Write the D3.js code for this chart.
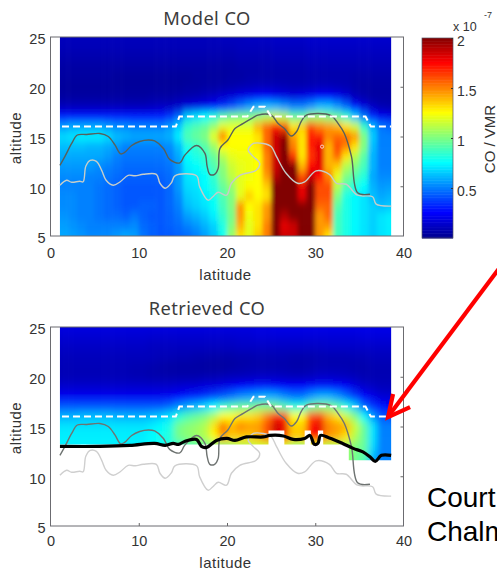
<!DOCTYPE html>
<html><head><meta charset="utf-8">
<script src="https://cdnjs.cloudflare.com/ajax/libs/d3/7.8.5/d3.min.js"></script>
<style>html,body{margin:0;padding:0;background:#fff;overflow:hidden}svg{display:block}</style>
</head><body><svg id="c" width="497" height="570"></svg>
<script>
// CO / VMR in units of 1e-7, one array per altitude, one value per 1-degree latitude bin (1..38)
const m25=[.10,.10,.10,.10,.10,.10,.10,.10,.10,.10,.10,.10,.10,.10,.10,.10,.10,.10,.11,.11,.11,.12,.12,.12,.13,.13,.13,.13,.14,.14,.14,.14,.14,.14,.14,.14,.14,.14];
const m24=[.09,.09,.09,.09,.09,.09,.09,.09,.09,.09,.09,.09,.09,.09,.09,.09,.09,.09,.09,.09,.10,.10,.10,.10,.11,.11,.11,.11,.12,.12,.12,.12,.12,.12,.12,.12,.12,.12];
const m23=[.07,.07,.07,.07,.07,.07,.07,.07,.07,.07,.07,.07,.07,.07,.07,.07,.07,.07,.07,.07,.08,.08,.08,.08,.09,.09,.09,.09,.10,.10,.10,.10,.10,.10,.10,.10,.10,.10];
const m22=[.05,.05,.05,.05,.05,.05,.05,.05,.05,.05,.05,.05,.05,.05,.05,.05,.05,.05,.05,.05,.06,.06,.06,.07,.07,.07,.07,.07,.08,.08,.08,.08,.08,.08,.08,.08,.08,.08];
const m21=[.04,.04,.04,.04,.04,.04,.03,.03,.03,.03,.03,.03,.03,.03,.03,.04,.04,.04,.04,.05,.05,.06,.06,.06,.06,.06,.06,.06,.07,.07,.07,.07,.07,.06,.06,.06,.06,.06];
const m20=[.03,.03,.03,.03,.03,.03,.03,.03,.03,.03,.03,.03,.03,.03,.04,.04,.05,.05,.06,.07,.08,.09,.10,.10,.10,.09,.08,.08,.09,.10,.10,.09,.08,.06,.05,.05,.05,.05];
const m19=[.04,.04,.04,.04,.04,.04,.04,.04,.04,.04,.05,.05,.05,.06,.07,.08,.10,.12,.15,.17,.20,.22,.24,.25,.22,.20,.18,.20,.22,.25,.25,.22,.17,.10,.07,.05,.05,.05];
const m18=[.10,.10,.10,.10,.10,.10,.10,.10,.10,.10,.11,.12,.12,.14,.18,.20,.22,.28,.33,.40,.48,.55,.60,.62,.60,.55,.50,.50,.55,.62,.62,.55,.45,.30,.18,.12,.08,.07];
const m17=[.30,.30,.30,.30,.30,.30,.30,.30,.30,.30,.30,.30,.35,.45,.65,.70,.75,.82,.92,.98,1.0,1.0,1.05,1.1,1.15,1.1,.95,.95,1.05,1.05,1.0,.95,.85,.65,.48,.32,.22,.20];
const m16=[.55,.58,.58,.58,.58,.55,.52,.52,.50,.50,.50,.50,.55,.65,.85,.90,.95,1.05,1.2,1.2,1.2,1.2,1.4,1.55,1.7,1.6,1.3,1.35,1.6,1.5,1.45,1.4,1.3,1.15,.85,.60,.48,.45];
const m15=[.68,.70,.72,.72,.72,.68,.62,.60,.58,.58,.58,.58,.60,.72,.90,.95,1.0,1.2,1.5,1.25,1.25,1.25,1.3,1.55,1.85,1.95,1.45,1.3,1.7,1.7,1.5,1.55,1.55,1.45,1.0,.65,.50,.50];
const m14=[.62,.62,.62,.60,.60,.58,.55,.50,.50,.50,.50,.50,.52,.62,.80,.85,.92,1.05,1.25,1.25,1.25,1.25,1.3,1.55,1.85,2.0,1.5,1.3,1.7,1.8,1.4,1.6,1.5,1.3,1.0,.62,.50,.50];
const m13=[.58,.58,.58,.58,.58,.55,.50,.48,.48,.48,.48,.48,.50,.58,.75,.80,.85,.95,1.1,1.2,1.22,1.22,1.25,1.5,1.85,2.0,1.65,1.3,1.65,1.8,1.4,1.55,1.3,1.1,.92,.60,.50,.50];
const m12=[.55,.55,.55,.55,.52,.50,.48,.46,.46,.46,.46,.46,.48,.55,.72,.75,.80,.90,1.02,1.15,1.2,1.22,1.25,1.5,1.85,2.0,2.0,1.4,1.75,1.8,1.4,1.35,1.1,1.0,.88,.60,.50,.50];
const m11=[.52,.52,.52,.50,.50,.48,.46,.44,.44,.44,.44,.44,.46,.55,.70,.72,.75,.85,1.0,1.12,1.2,1.22,1.25,1.45,1.9,2.0,2.0,1.6,1.85,1.75,1.5,1.2,1.0,.90,.82,.58,.52,.52];
const m10=[.50,.50,.50,.50,.48,.46,.44,.42,.42,.42,.42,.42,.45,.55,.68,.70,.75,.82,.95,1.05,1.2,1.25,1.25,1.35,2.0,2.0,2.0,1.8,2.0,1.6,1.6,1.1,.90,.82,.75,.60,.55,.56];
const m9 =[.52,.52,.50,.50,.48,.46,.44,.42,.42,.42,.42,.42,.45,.52,.65,.68,.72,.78,.90,1.0,1.2,1.35,1.25,1.3,2.0,2.0,2.0,1.8,2.0,1.6,1.6,1.0,.80,.74,.70,.62,.58,.60];
const m8 =[.52,.52,.50,.50,.48,.46,.44,.42,.42,.44,.44,.42,.45,.50,.62,.66,.70,.76,.88,1.0,1.45,1.25,1.3,1.45,2.0,2.0,2.0,2.0,2.0,1.55,1.55,.92,.80,.74,.70,.66,.62,.64];
const m7 =[.54,.52,.50,.50,.48,.46,.46,.44,.48,.44,.42,.42,.44,.48,.56,.60,.65,.72,.85,.98,1.45,1.22,1.3,1.45,2.0,1.9,2.0,2.0,2.0,1.45,1.55,.88,.80,.74,.70,.66,.70,.72];
const m6 =[.56,.54,.52,.50,.50,.50,.50,.50,.52,.46,.44,.42,.44,.46,.50,.54,.60,.66,.80,1.0,1.4,1.2,1.3,1.5,2.0,1.8,1.85,2.0,2.0,1.45,1.45,.88,.80,.74,.70,.66,.70,.72];
const m5 =[.58,.56,.54,.52,.52,.52,.55,.58,.56,.48,.44,.42,.42,.44,.46,.50,.56,.64,.78,1.05,1.3,1.2,1.35,1.5,2.0,1.85,1.85,2.0,2.0,1.45,1.3,.88,.80,.74,.70,.66,.70,.72];

const r25=[.18,.18,.18,.18,.18,.18,.18,.18,.18,.18,.18,.18,.18,.18,.18,.18,.18,.18,.18,.18,.18,.18,.19,.19,.20,.20,.20,.20,.20,.20,.20,.20,.20,.20,.20,.20,.20,.20];
const r24=[.15,.15,.15,.15,.15,.15,.15,.15,.15,.15,.14,.14,.14,.14,.14,.14,.14,.14,.14,.14,.15,.15,.16,.16,.16,.16,.16,.16,.16,.16,.16,.16,.16,.16,.17,.17,.17,.17];
const r23=[.12,.12,.12,.12,.12,.12,.12,.12,.12,.12,.11,.11,.11,.11,.11,.11,.11,.11,.11,.11,.12,.12,.12,.12,.12,.12,.12,.12,.12,.12,.13,.13,.13,.13,.13,.13,.13,.13];
const r22=[.10,.10,.10,.10,.10,.10,.10,.10,.10,.10,.10,.09,.09,.08,.08,.07,.07,.06,.06,.06,.07,.07,.08,.08,.08,.08,.07,.07,.07,.08,.08,.08,.08,.09,.09,.10,.10,.10];
const r21=[.09,.09,.09,.09,.09,.09,.09,.09,.08,.08,.07,.06,.05,.05,.05,.05,.04,.04,.04,.05,.06,.07,.07,.07,.07,.07,.06,.06,.07,.08,.08,.08,.08,.07,.07,.08,.08,.08];
const r20=[.09,.09,.09,.09,.09,.09,.09,.09,.08,.08,.07,.07,.07,.07,.07,.07,.08,.08,.09,.10,.10,.11,.12,.12,.12,.11,.10,.10,.11,.13,.13,.12,.11,.10,.08,.08,.08,.08];
const r19=[.14,.14,.14,.14,.14,.14,.14,.14,.14,.14,.14,.14,.14,.15,.16,.16,.18,.18,.20,.22,.25,.27,.30,.30,.28,.26,.24,.26,.28,.30,.30,.28,.24,.18,.14,.12,.10,.10];
const r18=[.22,.22,.22,.22,.22,.22,.22,.22,.22,.22,.22,.22,.23,.26,.30,.32,.34,.38,.42,.47,.52,.55,.58,.60,.58,.52,.48,.48,.55,.60,.60,.55,.46,.36,.26,.20,.16,.15];
const r17=[.42,.42,.42,.42,.42,.42,.42,.42,.42,.42,.42,.42,.45,.52,.58,.62,.68,.75,.85,.90,.95,.95,1.0,1.0,.98,.90,.82,.82,.95,1.0,1.0,.92,.80,.65,.45,.35,.28,.25];
const r16=[.60,.60,.62,.62,.62,.62,.60,.60,.60,.60,.62,.65,.70,.82,.90,.95,1.0,1.1,1.25,1.25,1.3,1.3,1.35,1.5,1.7,1.65,1.25,1.25,1.6,1.65,1.4,1.3,1.15,1.0,.75,.55,.42,.40];
const r15=[.70,.70,.70,.70,.70,.70,.70,.70,.70,.70,.72,.75,.80,.98,1.02,1.05,1.1,1.3,1.55,1.4,1.5,1.45,1.45,1.6,1.85,1.8,1.35,1.35,1.75,1.8,1.5,1.45,1.4,1.15,.95,.70,.50,.50];
const r14=[.72,.72,.72,.72,.72,.72,.72,.72,.72,.72,.75,.78,.82,.98,1.02,1.05,1.1,1.25,1.45,1.35,1.35,1.35,1.4,1.55,1.8,1.7,1.35,1.35,1.7,1.7,1.45,1.4,1.3,1.1,.95,.70,.50,.50];
const r13=[.72,.72,.72,.72,.72,.72,.72,.72,.72,.72,.74,.76,.80,.85,.90,.92,.95,1.0,1.05,1.05,1.1,1.1,1.15,1.15,1.2,1.2,1.05,1.05,1.2,1.2,1.1,1.1,1.05,1.0,.95,.68,.50,.50];
const r12=[.72,.72,.72,.72,.72,.72,.72,.72,.72,.72,.74,.76,.80,.85,.90,.92,.95,1.0,1.05,1.05,1.1,1.1,1.15,1.15,1.2,1.2,1.05,1.05,1.2,1.2,1.1,1.1,1.05,.98,.92,.62,.50,.50];
const r11=[.72,.72,.72,.72,.72,.72,.72,.72,.72,.72,.74,.76,.80,.85,.90,.92,.95,1.0,1.05,1.05,1.1,1.1,1.15,1.15,1.2,1.2,1.05,1.05,1.2,1.2,1.1,1.1,1.05,.95,.90,.55,.50,.50];

const altitudesModel=[25,24,23,22,21,20,19,18,17,16,15,14,13,12,11,10,9,8,7,6,5];
const rowsModel=[m25,m24,m23,m22,m21,m20,m19,m18,m17,m16,m15,m14,m13,m12,m11,m10,m9,m8,m7,m6,m5];
const altitudesRetrieved=[25,24,23,22,21,20,19,18,17,16,15,14,13,12,11];
const rowsRetrieved=[r25,r24,r23,r22,r21,r20,r19,r18,r17,r16,r15,r14,r13,r12,r11];

// lower edge of the retrieved field (latitude break, altitude to the next break)
const floorLat=[1.07,24.7,26.5,28.8,29.5,30.3,30.9,33.8,38.6];
const floorAlt=[13.2,14.6,13.2,14.6,13.2,14.6,13.2,11.6];

// lines: [latitude, altitude]
const darkLine=[[1.07,12.1],[1.64,13],[2.4,14.3],[3.04,15.15],[4.1,15.2],[5.6,15.3],[6.55,15],[7.3,14.15],[7.95,13.25],[8.4,13.4],[9.2,14.1],[10.1,14.5],[11.1,14.65],[11.8,14.55],[12.8,13.8],[13.5,12.7],[14.65,12.35],[15.2,13.1],[16.55,14.1],[17.5,13.3],[17.75,12],[18.05,11.2],[18.6,11.2],[19,11.8],[19.2,13.8],[20.1,14.65],[20.9,15.8],[21.8,16.3],[22.96,16.9],[23.5,17.15],[25,17.15],[25.8,16.3],[26.5,15.8],[27.3,15.05],[27.9,15.5],[28.4,16.5],[29,17.15],[31.8,17.1],[32.6,16.3],[33.3,15.3],[34.1,13],[34.8,9.35],[36.2,9.2]];
const lightLine=[[1.07,10.1],[1.83,10.6],[2.4,10.4],[3.3,10.5],[3.7,10.45],[4,12],[4.5,12.6],[5.2,12.5],[5.8,11.6],[6.3,10.6],[7.1,10.1],[7.9,10.45],[8.8,11.1],[9.6,11.05],[10.5,11.2],[12,11.2],[12.4,10.3],[13,9.8],[13.7,10.35],[14.1,11.05],[16.55,11.05],[16.9,9.95],[17.85,8.6],[18.4,8.95],[19,9.4],[19.95,9.1],[20.5,10.3],[21.45,11.1],[23.3,11.6],[23.7,12.3],[22.96,13],[22.4,13.65],[23,14.3],[24.1,14.3],[25,14],[25.6,13],[26.7,11.3],[28,10.3],[28.8,10.45],[30.1,11.55],[31.6,11.2],[32.4,10.3],[33.5,10.2],[34.8,9.1],[36.5,8.95],[36.9,8.2],[38.6,8]];
const dashedLine=[[1.3,16],[14.2,16],[14.6,17],[22.3,17],[23,18],[24.3,18],[25,17],[35.7,17],[36.3,16],[38.6,16]];
const blackLine=[[1.07,13],[5.6,13],[9,13.1],[11.8,13.3],[13,13.1],[13.9,13.3],[14.5,13.2],[15.2,13.5],[16.55,13.7],[17.1,13],[17.7,12.9],[18.8,13.6],[20,13.8],[20.9,13.6],[22.2,13.95],[24.1,13.95],[24.85,14.1],[26.4,14.05],[27.5,13.7],[28.8,13.8],[29.4,14.1],[29.9,13.2],[30.3,13.3],[30.6,14.1],[31.6,13.85],[33.1,13.3],[34.3,12.8],[35.4,12.45],[36.2,11.95],[36.8,11.5],[37.5,12.1],[38.6,12.1]];
const markerPoint=[30.77,13.98];

const xTicks=[0,10,20,30,40];
const yTicks=[5,10,15,20,25];
const barTicks=[.5,1,1.5,2];
const jetStops=[0,.25,.75,1.25,1.75,2];
const jetColours=["#00008f","#0000ff","#00ffff","#ffff00","#ff0000","#800000"];

const svg=d3.select("#c");
const jet=d3.scaleLinear().domain(jetStops).range(jetColours).clamp(true);
const x=d3.scaleLinear().domain([0,40]).range([50.5,403.5]);
const yTop=d3.scaleLinear().domain([5,25]).range([236,37]);
const yBot=d3.scaleLinear().domain([5,25]).range([526,327]);
const latEdge=[1.07,38.6];
const tickFont='"Liberation Sans",Arial,sans-serif';
const defs=svg.append("defs");

function blurFilter(id,sx,sy){
  defs.append("filter").attr("id",id).attr("filterUnits","userSpaceOnUse")
    .attr("x",0).attr("y",0).attr("width",497).attr("height",570)
    .append("feGaussianBlur").attr("stdDeviation",sx+" "+sy);
}
blurFilter("blurM",2,4.2);
blurFilter("blurR",3,4);

function panel(opts){
  const y=opts.y, pad=14;
  const g=svg.append("g");
  const [y0,y1]=y.range();
  g.append("rect").attr("x",x(0)).attr("y",y1).attr("width",x(40)-x(0)).attr("height",y0-y1).attr("fill","#fff");
  // inner ticks
  g.append("g").attr("transform",`translate(0,${y0})`)
    .call(d3.axisTop(x).tickValues(xTicks.slice(1,4)).tickSize(3).tickFormat(""))
    .call(s=>{s.select(".domain").remove();s.selectAll("line").attr("stroke","#666");});
  g.append("g").attr("transform",`translate(${x(40)},0)`)
    .call(d3.axisLeft(y).tickValues(yTicks.slice(1,4)).tickSize(3).tickFormat(""))
    .call(s=>{s.select(".domain").remove();s.selectAll("line").attr("stroke","#666");});
  // heat cells
  defs.append("clipPath").attr("id",opts.id).append("path").attr("d",opts.clip);
  const heat=g.append("g").attr("clip-path",`url(#${opts.id})`).append("g").attr("filter",`url(#${opts.filter})`);
  opts.rows.forEach((row,ri)=>{
    const a=opts.alts[ri];
    const last=ri===opts.rows.length-1;
    const top=y(a+.5)-(ri===0?pad:0), bot=y(a-.5)+(last?pad:0)+.5;
    heat.selectAll(null).data(row).enter().append("rect")
      .attr("x",(d,i)=>x(1+i)-(i===0?pad:0))
      .attr("width",(d,i)=>x(2+i)-x(1+i)+.5+(i===0?pad:0)+(i===row.length-1?pad:0))
      .attr("y",top).attr("height",bot-top)
      .attr("fill",d=>jet(d));
  });
  const line=d3.line().x(d=>x(d[0])).y(d=>y(d[1])).curve(d3.curveCatmullRom.alpha(.5));
  g.append("path").attr("d",line(lightLine)).attr("fill","none").attr("stroke",opts.light).attr("stroke-width",1.4);
  g.append("path").attr("d",line(darkLine)).attr("fill","none").attr("stroke",opts.dark).attr("stroke-width",1.4);
  g.append("path").attr("d",d3.line().x(d=>x(d[0])).y(d=>y(d[1]))(dashedLine)).attr("fill","none").attr("stroke","#fff").attr("stroke-width",2).attr("stroke-dasharray","7 4");
  if(opts.after)opts.after(g,line);
  g.append("rect").attr("x",x(0)).attr("y",y1).attr("width",x(40)-x(0)).attr("height",y0-y1).attr("fill","none").attr("stroke","#6b6b70").attr("stroke-width",1);
  // labels
  g.append("g").attr("transform",`translate(${x(0)},0)`)
    .call(d3.axisLeft(y).tickValues(yTicks).tickSize(0).tickPadding(5).tickFormat(d3.format("d")))
    .call(s=>{s.select(".domain").remove();s.selectAll("text").attr("dy",null).attr("y",3).attr("font-family",tickFont).attr("font-size",14.5).attr("fill","#333").attr("dominant-baseline","middle");});
  g.append("g").attr("transform",`translate(0,${y0})`)
    .call(d3.axisBottom(x).tickValues(xTicks).tickSize(0).tickPadding(opts.xpad).tickFormat(d3.format("d")))
    .call(s=>{s.select(".domain").remove();s.selectAll("text").attr("font-family",tickFont).attr("font-size",14.5).attr("fill","#333");});
  g.append("text").text(opts.title).attr("x",207).attr("y",opts.titleY).attr("text-anchor","middle")
    .attr("font-family",'"Noto Sans",sans-serif').attr("font-size",18.3).attr("letter-spacing",.4).attr("fill","#3c3c3c");
  g.append("text").text("latitude").attr("x",225.5).attr("y",opts.latY).attr("text-anchor","middle")
    .attr("font-family",tickFont).attr("font-size",15).attr("letter-spacing",.5).attr("fill","#333");
  g.append("text").text("altitude").attr("transform",`translate(21,${opts.altY}) rotate(-90)`).attr("text-anchor","middle")
    .attr("font-family",tickFont).attr("font-size",15).attr("letter-spacing",.5).attr("fill","#333");
}

// Model panel
const topClip=`M${x(latEdge[0])},${yTop(25)}H${x(latEdge[1])}V${yTop(5)}H${x(latEdge[0])}Z`;
panel({id:"clipM",filter:"blurM",y:yTop,rows:rowsModel,alts:altitudesModel,clip:topClip,title:"Model CO",titleY:25,latY:280,altY:138,xpad:12,dark:"#57605c",light:"#c6cdc9",
  after:g=>g.append("circle").attr("cx",x(markerPoint[0])).attr("cy",yTop(markerPoint[1])).attr("r",1.6).attr("fill","none").attr("stroke","#ffd9d9").attr("stroke-width",.9)});

// Retrieved panel: lower edge follows the step arrays
let bp=`M${x(latEdge[0])},${yBot(25)}H${x(latEdge[1])}`;
for(let i=floorAlt.length-1;i>=0;i--){bp+=`V${yBot(floorAlt[i])}H${x(floorLat[i])}`;}
bp+="Z";
panel({id:"clipR",filter:"blurR",y:yBot,rows:rowsRetrieved,alts:altitudesRetrieved,clip:bp,title:"Retrieved CO",titleY:315,latY:568,altY:428,xpad:10,dark:"#6e7371",light:"#cfcfcf",
  after:(g,line)=>g.append("path").attr("d",line(blackLine)).attr("fill","none").attr("stroke","#000").attr("stroke-width",3.2)});

// Colour bar
const barY=d3.scaleLinear().domain([0,2]).range([238,38]);
const barX=[422,453];
const barVals=d3.range(0,2,2/128);
svg.append("g").selectAll("rect").data(barVals).enter().append("rect")
  .attr("x",barX[0]).attr("width",barX[1]-barX[0])
  .attr("y",d=>barY(d+2/128)).attr("height",d=>barY(d)-barY(d+2/128)+.5)
  .attr("fill",d=>jet(d));
svg.append("rect").attr("x",barX[0]).attr("y",38).attr("width",barX[1]-barX[0]).attr("height",200).attr("fill","none").attr("stroke","#556").attr("stroke-width",.7);
svg.append("g").attr("transform",`translate(${barX[1]},0)`)
  .call(d3.axisRight(barY).tickValues(barTicks).tickSize(0).tickPadding(4).tickFormat(d3.format("")))
  .call(s=>{s.select(".domain").remove();s.selectAll("text").attr("y",3).attr("font-family",tickFont).attr("font-size",14).attr("fill","#333");});
svg.append("g").attr("transform",`translate(${barX[1]},0)`)
  .call(d3.axisLeft(barY).tickValues(barTicks).tickSize(2).tickFormat(""))
  .call(s=>{s.select(".domain").remove();s.selectAll("line").attr("stroke","#333");});
svg.append("text").text("x 10").attr("x",453).attr("y",31).attr("font-family",tickFont).attr("font-size",12.5).attr("fill","#333");
svg.append("text").text("-7").attr("x",484).attr("y",18).attr("font-family",tickFont).attr("font-size",9).attr("fill","#333");
svg.append("text").text("CO / VMR").attr("transform","translate(495,139) rotate(-90)").attr("text-anchor","middle").attr("font-family",tickFont).attr("font-size",15).attr("fill","#333");

// Annotation
const tip=[x(38.25),yBot(15.95)];
svg.append("path").attr("d",`M${tip[0]+112},${tip[1]-150}L${tip[0]+2},${tip[1]-3}`).attr("fill","none").attr("stroke","#f00").attr("stroke-width",4.2);
svg.append("path").attr("d",`M${tip[0]+5},${tip[1]-23}L${tip[0]},${tip[1]}L${tip[0]+22},${tip[1]-10}`).attr("fill","none").attr("stroke","#f00").attr("stroke-width",4.2).attr("stroke-linejoin","miter");
svg.append("text").text("Court").attr("x",427).attr("y",507).attr("font-family",tickFont).attr("font-size",28).attr("fill","#000");
svg.append("text").text("Chalm").attr("x",427).attr("y",541).attr("font-family",tickFont).attr("font-size",28).attr("fill","#000");
</script></body></html>
